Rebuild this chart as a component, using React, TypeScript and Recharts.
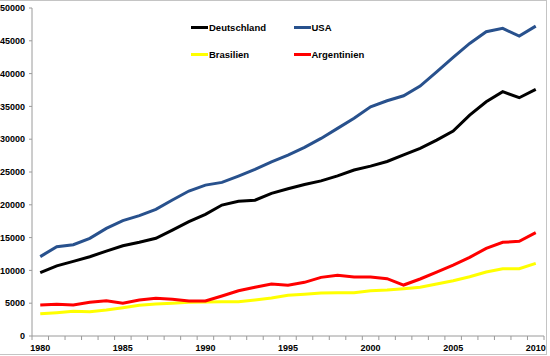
import React from 'react';
import { LineChart, Line, XAxis, YAxis, Legend } from 'recharts';

const years = [
  1980, 1981, 1982, 1983, 1984, 1985, 1986, 1987, 1988, 1989, 1990,
  1991, 1992, 1993, 1994, 1995, 1996, 1997, 1998, 1999, 2000,
  2001, 2002, 2003, 2004, 2005, 2006, 2007, 2008, 2009, 2010,
];
const deutschland = [
  9650, 10700, 11380, 12080, 12950, 13760, 14280, 14890, 16150, 17420, 18550,
  19960, 20550, 20700, 21750, 22450, 23100, 23650, 24400, 25300, 25900,
  26600, 27600, 28600, 29870, 31240, 33680, 35710, 37240, 36320, 37600,
];
const usa = [
  12100, 13600, 13920, 14890, 16410, 17580, 18340, 19300, 20730, 22100, 23000,
  23420, 24380, 25400, 26560, 27580, 28750, 30120, 31650, 33180, 34950,
  35860, 36620, 38100, 40280, 42470, 44600, 46380, 46890, 45720, 47240,
];
const brasilien = [
  3400, 3560, 3760, 3700, 3960, 4310, 4680, 4880, 4980, 5130, 5180,
  5230, 5230, 5490, 5790, 6200, 6350, 6550, 6600, 6600, 6900,
  7010, 7210, 7420, 7920, 8430, 9040, 9750, 10260, 10260, 11080,
];
const argentinien = [
  4730, 4830, 4730, 5130, 5380, 4980, 5490, 5740, 5590, 5330, 5330,
  6100, 6900, 7420, 7920, 7750, 8180, 8940, 9250, 8990, 8990,
  8740, 7770, 8690, 9750, 10820, 11990, 13360, 14280, 14430, 15750,
];
const seriesNames = ['Deutschland', 'USA', 'Brasilien', 'Argentinien'];
const yTicks = [0, 5000, 10000, 15000, 20000, 25000, 30000, 35000, 40000, 45000, 50000];
const labelYears = [1980, 1985, 1990, 1995, 2000, 2005, 2010];

const data = years.map((year, i) => ({
  year,
  Deutschland: deutschland[i],
  USA: usa[i],
  Brasilien: brasilien[i],
  Argentinien: argentinien[i],
}));

const boundaryTicks = [...years.map((y) => y - 0.5), years[years.length - 1] + 0.5];
const xTicks = [...boundaryTicks, ...labelYears].sort((a, b) => a - b);

const FONT = '"Liberation Sans", Arial, sans-serif';
const AXIS = '#9a9a9a';

const XTick = (props: any) => {
  const { x, y, payload } = props;
  const v = payload.value as number;
  if (v % 1 !== 0) {
    return <line x1={x} x2={x} y1={y} y2={y + 4} stroke={AXIS} strokeWidth={1} />;
  }
  return (
    <text x={x} y={y + 15} textAnchor="middle" fontFamily={FONT} fontWeight="bold" fontSize={9} fill="#000">
      {v}
    </text>
  );
};

const LegendContent = (props: any) => {
  const payload = [...(props.payload || [])].sort(
    (a: any, b: any) => seriesNames.indexOf(a.value) - seriesNames.indexOf(b.value)
  );
  return (
    <div style={{ position: 'relative', width: 200, height: 50 }}>
      {payload.map((p: any, i: number) => {
        const col = i % 2;
        const row = Math.floor(i / 2);
        return (
          <div
            key={p.value}
            style={{
              position: 'absolute',
              left: col * 102.5,
              top: row * 27.5,
              display: 'flex',
              alignItems: 'center',
              height: 14,
              whiteSpace: 'nowrap',
            }}
          >
            <span style={{ display: 'inline-block', width: 17, height: 3, background: p.color }} />
            <span style={{ fontFamily: FONT, fontWeight: 'bold', fontSize: 9.5, color: '#000', marginLeft: 1 }}>
              {p.value}
            </span>
          </div>
        );
      })}
    </div>
  );
};

export default function App() {
  return (
    <div style={{ position: 'absolute', left: 0, top: 0, width: 550, height: 356, background: '#fff' }}>
      <LineChart width={550} height={356} data={data} margin={{ top: 8, right: 6, left: 0, bottom: 0 }}>
        <XAxis
          dataKey="year"
          type="number"
          domain={[1979.5, 2010.5]}
          ticks={xTicks}
          interval={0}
          tick={<XTick />}
          tickLine={false}
          tickSize={0}
          tickMargin={0}
          height={20}
          axisLine={{ stroke: AXIS }}
        />
        <YAxis
          domain={[0, 50000]}
          ticks={yTicks}
          interval={0}
          width={32}
          tickSize={3}
          tickMargin={4}
          axisLine={{ stroke: AXIS }}
          tickLine={{ stroke: AXIS }}
          tick={{ fontFamily: FONT, fontWeight: 'bold', fontSize: 9, fill: '#000' }}
        />
        <Legend
          layout="horizontal"
          verticalAlign="middle"
          align="center"
          itemSorter={null as any}
          content={<LegendContent />}
          wrapperStyle={{ left: 191, top: 20, width: 200, height: 50 }}
        />
        <Line dataKey="Deutschland" stroke="#000000" strokeWidth={3} dot={false} isAnimationActive={false} />
        <Line dataKey="USA" stroke="#28518d" strokeWidth={3} dot={false} isAnimationActive={false} />
        <Line dataKey="Brasilien" stroke="#ffff00" strokeWidth={3} dot={false} isAnimationActive={false} />
        <Line dataKey="Argentinien" stroke="#ff0000" strokeWidth={3} dot={false} isAnimationActive={false} />
      </LineChart>
      <div
        style={{
          position: 'absolute',
          left: 0,
          top: 0,
          width: 546,
          height: 353,
          borderTop: '1px solid #c4c4c4',
          borderRight: '1px solid #c4c4c4',
          borderBottom: '1px solid #c4c4c4',
          pointerEvents: 'none',
        }}
      />
    </div>
  );
}
